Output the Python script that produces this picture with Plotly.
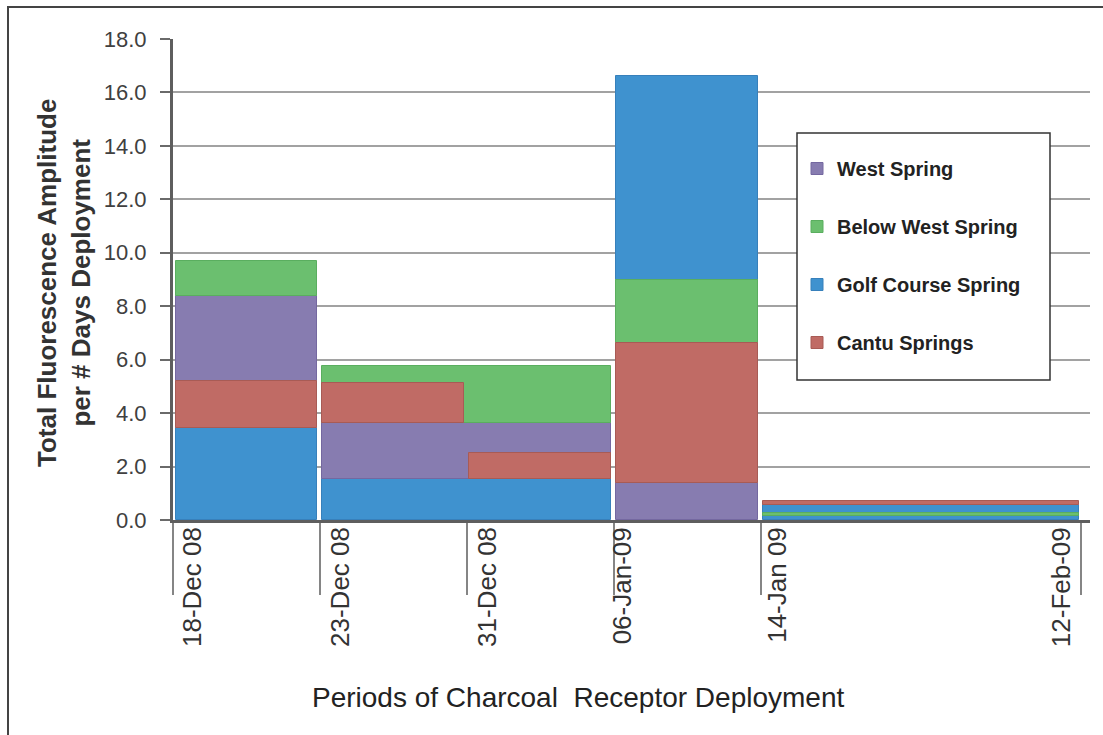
import plotly.graph_objects as go

# ---------------- data ----------------
period_labels = ["18-Dec 08", "23-Dec 08", "31-Dec 08", "06-Jan-09", "14-Jan 09", "12-Feb-09"]
period_pos = [0, 1, 2, 3, 4, 6.18]

series_names = ["West Spring", "Below West Spring", "Golf Course Spring", "Cantu Springs"]
# segments: (start period index, end period index, bottom value, top value)
west_spring = [(0, 1, 5.19, 8.40), (1, 3, 1.53, 3.63), (3, 4, 0.00, 1.39)]
below_west_spring = [(0, 1, 8.40, 9.68), (1, 3, 3.63, 5.78), (3, 4, 6.62, 8.99), (4, 5, 0.14, 0.27)]
golf_course_spring = [(0, 1, 0.00, 3.43), (1, 3, 0.00, 1.53), (3, 4, 8.99, 16.62), (4, 5, 0.00, 0.56)]
cantu_springs = [(0, 1, 3.43, 5.19), (1, 2, 3.63, 5.12), (2, 3, 1.53, 2.51), (3, 4, 1.39, 6.62), (4, 5, 0.56, 0.72)]

y_ticks = [0, 2, 4, 6, 8, 10, 12, 14, 16, 18]

# ---------------- styles ----------------
fills = {"West Spring": "#877CB0", "Below West Spring": "#6BBF6F",
         "Golf Course Spring": "#3F92CF", "Cantu Springs": "#C06B65"}
edges = {"West Spring": "#7468A0", "Below West Spring": "#5AAE5F",
         "Golf Course Spring": "#3780BB", "Cantu Springs": "#A85B55"}
segments = {"West Spring": west_spring, "Below West Spring": below_west_spring,
            "Golf Course Spring": golf_course_spring, "Cantu Springs": cantu_springs}
draw_order = ["Golf Course Spring", "West Spring", "Below West Spring", "Cantu Springs"]

W, H = 1103, 735
L, R, T, B = 173, 13, 39, 215
X_MAX = 6.24
INSET = 0.017
pw, ph = W - L - R, H - T - B


def pxx(px):
    return (px - L) / pw


def pxy(py):
    return (H - B - py) / ph


fig = go.Figure()
for name in draw_order:
    segs = segments[name]
    xs, ws, bs, hs = [], [], [], []
    for s, e, lo, hi in segs:
        x0, x1 = period_pos[s] + INSET, period_pos[e] - INSET
        xs.append((x0 + x1) / 2)
        ws.append(x1 - x0)
        bs.append(lo)
        hs.append(hi - lo)
    fig.add_trace(go.Bar(
        x=xs, y=hs, base=bs, width=ws, name=name,
        legendgroup=name, legendrank=series_names.index(name) + 1,
        marker=dict(color=fills[name], line=dict(color=edges[name], width=1)),
    ))

annotations = []
label_shift = [19, 20, 20, 8, 16, -20]
for pos, lab, sh in zip(period_pos, period_labels, label_shift):
    annotations.append(dict(
        x=pos, xref="x", y=0, yref="paper", text=lab, textangle=-90,
        xanchor="center", yanchor="top", xshift=sh, yshift=-5, showarrow=False,
        font=dict(family="Liberation Sans, Arial", size=26, color="#333333")))

annotations.append(dict(
    x=pxx(64), xref="paper", y=pxy(283), yref="paper",
    text="Total Fluorescence Amplitude<br>per # Days Deployment", textangle=-90,
    xanchor="center", yanchor="middle", showarrow=False,
    font=dict(family="Liberation Sans, Arial", size=26, color="#333333", weight="bold")))

annotations.append(dict(
    x=pxx(578), xref="paper", y=pxy(697), yref="paper",
    text="Periods of Charcoal  Receptor Deployment",
    xanchor="center", yanchor="middle", showarrow=False,
    font=dict(family="Liberation Sans, Arial", size=28, color="#222222")))

shapes = [
    dict(type="rect", xref="paper", yref="paper",
         x0=pxx(8), x1=pxx(1115), y0=pxy(7), y1=pxy(745),
         line=dict(color="#444444", width=2), fillcolor="rgba(0,0,0,0)", layer="below"),
    dict(type="rect", xref="paper", yref="paper",
         x0=pxx(797), x1=pxx(1050), y0=pxy(133), y1=pxy(380),
         line=dict(color="#333333", width=1.5), fillcolor="white", layer="above"),
]

fig.update_layout(
    width=W, height=H,
    margin=dict(l=L, r=R, t=T, b=B),
    paper_bgcolor="white", plot_bgcolor="white",
    barmode="overlay",
    bargap=0,
    showlegend=True,
    legend=dict(x=pxx(797), y=pxy(149), xanchor="left", yanchor="top",
                bgcolor="rgba(0,0,0,0)", borderwidth=0,
                tracegroupgap=29, traceorder="grouped",
                font=dict(family="Liberation Sans, Arial", size=20, color="#222222", weight="bold")),
    font=dict(family="Liberation Sans, Arial", color="#333333"),
    annotations=annotations,
    shapes=shapes,
    xaxis=dict(range=[0, X_MAX], tickvals=period_pos, showticklabels=False,
               ticks="outside", ticklen=72, tickwidth=2, tickcolor="#858585",
               showgrid=False, zeroline=False,
               showline=True, linecolor="#5E5E5E", linewidth=3),
    yaxis=dict(range=[0, 18], tickvals=y_ticks, tickformat=".1f",
               ticks="outside", ticklen=10, tickwidth=2, tickcolor="#6A6A6A",
               ticklabelstandoff=9,
               tickfont=dict(family="Liberation Sans, Arial", size=22, color="#404040"),
               showgrid=True, gridcolor="#A2A2A2", gridwidth=2, zeroline=False,
               showline=True, linecolor="#5E5E5E", linewidth=3),
)

fig.write_html("out.html", config={"displayModeBar": False},
               post_script="document.body.style.margin='0px';")
